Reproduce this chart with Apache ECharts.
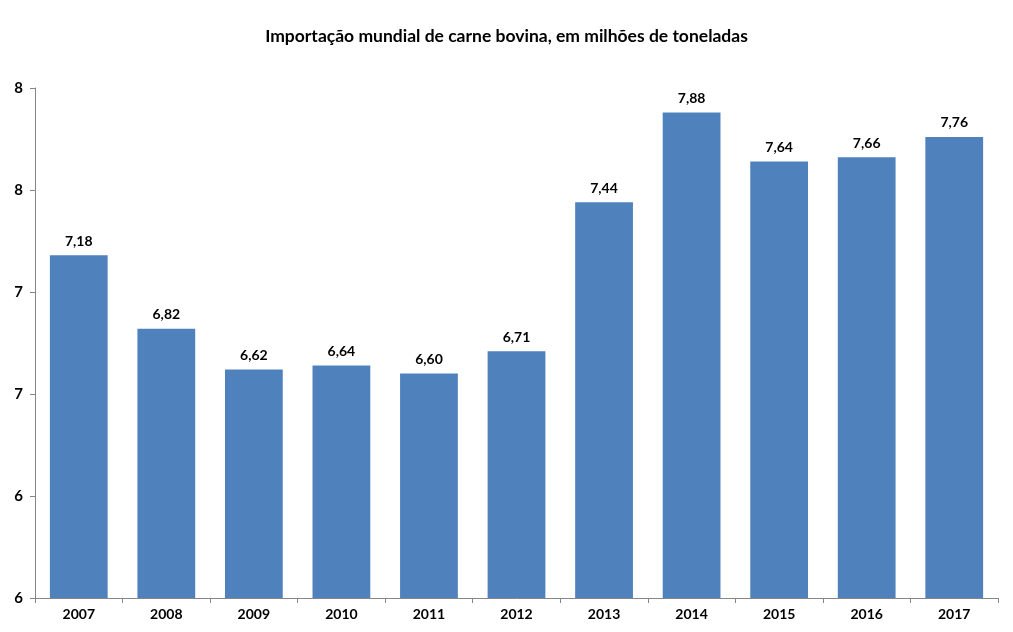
<!DOCTYPE html>
<html>
<head>
<meta charset="utf-8">
<script src="https://cdn.jsdelivr.net/npm/echarts@6/dist/echarts.min.js"></script>
<style>
  html, body { margin: 0; padding: 0; background: #fff; }
  #chart { width: 1013px; height: 632px; }
</style>
</head>
<body>
<div id="chart"></div>
<script>
const titleText = 'Importação mundial de carne bovina, em milhões de toneladas'
const years = ['2007', '2008', '2009', '2010', '2011', '2012', '2013', '2014', '2015', '2016', '2017']
const imports = [7.18, 6.82, 6.62, 6.64, 6.60, 6.71, 7.44, 7.88, 7.64, 7.66, 7.76]

const chart = echarts.init(document.getElementById('chart'))
const font = 'Lato, "Open Sans", sans-serif'
const axisGray = '#868686'

chart.setOption({
  animation: false,
  title: {
    text: titleText,
    left: 'center',
    top: 22,
    textStyle: { fontFamily: font, fontSize: 17.5, fontWeight: 'bold', color: '#000' }
  },
  grid: { left: 35, right: 15, top: 88, bottom: 34 },
  xAxis: {
    type: 'category',
    data: years,
    axisLine: { lineStyle: { color: axisGray } },
    axisTick: { show: true, length: 5, lineStyle: { color: axisGray } },
    axisLabel: { fontFamily: font, fontSize: 14, fontWeight: 'bold', color: '#000', margin: 9 }
  },
  yAxis: {
    type: 'value',
    min: 5.5,
    max: 8,
    interval: 0.5,
    splitLine: { show: false },
    axisLine: { show: true, lineStyle: { color: axisGray } },
    axisTick: { show: true, length: 5, lineStyle: { color: axisGray } },
    axisLabel: {
      fontFamily: font, fontSize: 15, fontWeight: 'bold', color: '#000', margin: 12,
      formatter: v => String(Math.round(v))
    }
  },
  series: [{
    type: 'bar',
    data: imports,
    barWidth: '66%',
    itemStyle: { color: '#4f81bd' },
    label: {
      show: true,
      position: 'top',
      distance: 7,
      fontFamily: font,
      fontSize: 14,
      fontWeight: 'bold',
      color: '#000',
      formatter: p => p.value.toFixed(2).replace('.', ',')
    }
  }]
})
</script>
</body>
</html>
